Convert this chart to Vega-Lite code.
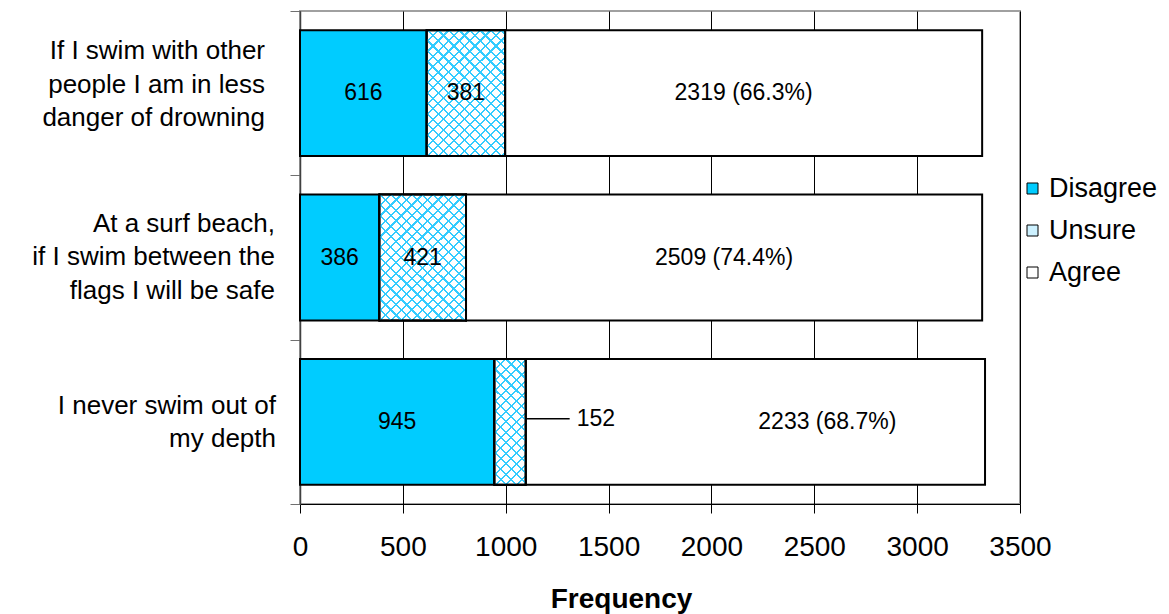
{
  "$schema": "https://vega.github.io/schema/vega-lite/v6.json",
  "width": 720,
  "height": 493,
  "autosize": {"type": "none"},
  "padding": {"left": 300, "top": 11, "right": 149, "bottom": 110},
  "background": "#ffffff",
  "data": {
    "values": [
      {"statement": "If I swim with other|people I am in less|danger of drowning", "response": "Disagree", "count": 616, "label": "616"},
      {"statement": "If I swim with other|people I am in less|danger of drowning", "response": "Unsure", "count": 381, "label": "381"},
      {"statement": "If I swim with other|people I am in less|danger of drowning", "response": "Agree", "count": 2319, "label": "2319 (66.3%)"},
      {"statement": "At a surf beach,|if I swim between the|flags I will be safe", "response": "Disagree", "count": 386, "label": "386"},
      {"statement": "At a surf beach,|if I swim between the|flags I will be safe", "response": "Unsure", "count": 421, "label": "421"},
      {"statement": "At a surf beach,|if I swim between the|flags I will be safe", "response": "Agree", "count": 2509, "label": "2509 (74.4%)"},
      {"statement": "I never swim out of|my depth", "response": "Disagree", "count": 945, "label": "945"},
      {"statement": "I never swim out of|my depth", "response": "Unsure", "count": 152, "label": "152"},
      {"statement": "I never swim out of|my depth", "response": "Agree", "count": 2233, "label": "2233 (68.7%)"}
    ]
  },
  "transform": [
    {"calculate": "indexof(['Disagree','Unsure','Agree'], datum.response)", "as": "order"},
    {"stack": "count", "groupby": ["statement"], "sort": [{"field": "order", "order": "ascending"}], "as": ["x0", "x1"]},
    {"calculate": "(datum.x0 + datum.x1) / 2", "as": "mid"}
  ],
  "encoding": {
    "y": {
      "field": "statement",
      "type": "nominal",
      "sort": null,
      "scale": {"paddingInner": 0, "paddingOuter": 0},
      "axis": {"title": null, "labels": false}
    }
  },
  "layer": [
    {
      "mark": {"type": "bar", "stroke": "#000000", "strokeWidth": 2, "height": {"band": 0.766}},
      "encoding": {
        "x": {
          "field": "x0",
          "type": "quantitative",
          "scale": {"domain": [0, 3500], "nice": false},
          "axis": {"title": "Frequency", "format": "d", "values": [0, 500, 1000, 1500, 2000, 2500, 3000, 3500]}
        },
        "x2": {"field": "x1"},
        "color": {
          "field": "response",
          "type": "nominal",
          "scale": {"domain": ["Disagree", "Unsure", "Agree"], "range": ["#00ccff", "#cdf1ff", "#ffffff"]},
          "legend": {
            "title": null,
            "orient": "none",
            "legendX": 719,
            "legendY": 164,
            "padding": 0,
            "symbolType": "square",
            "symbolSize": 121,
            "symbolStrokeColor": "#000000",
            "symbolStrokeWidth": 1,
            "symbolOpacity": 1,
            "labelFontSize": 27,
            "labelColor": "#000000",
            "labelOffset": 3,
            "rowPadding": 14
          }
        }
      }
    },
    {
      "transform": [{"filter": "datum.response === 'Unsure' && datum.count === 381"}],
      "mark": {"type": "bar", "stroke": "#000000", "strokeWidth": 2, "height": {"band": 0.766}, "fill": {"gradient": "linear", "x1": 0, "y1": 0, "x2": 0.747, "y2": 1.2014, "stops": [
        {"offset": 0, "color": "#3cf"}, {"offset": 0.01, "color": "#3cf"}, {"offset": 0.01, "color": "#fff"}, {"offset": 0.05, "color": "#fff"},
        {"offset": 0.05, "color": "#3cf"}, {"offset": 0.06, "color": "#3cf"}, {"offset": 0.06, "color": "#fff"}, {"offset": 0.1, "color": "#fff"},
        {"offset": 0.1, "color": "#3cf"}, {"offset": 0.11, "color": "#3cf"}, {"offset": 0.11, "color": "#fff"}, {"offset": 0.15, "color": "#fff"},
        {"offset": 0.15, "color": "#3cf"}, {"offset": 0.16, "color": "#3cf"}, {"offset": 0.16, "color": "#fff"}, {"offset": 0.2, "color": "#fff"},
        {"offset": 0.2, "color": "#3cf"}, {"offset": 0.21, "color": "#3cf"}, {"offset": 0.21, "color": "#fff"}, {"offset": 0.25, "color": "#fff"},
        {"offset": 0.25, "color": "#3cf"}, {"offset": 0.26, "color": "#3cf"}, {"offset": 0.26, "color": "#fff"}, {"offset": 0.3, "color": "#fff"},
        {"offset": 0.3, "color": "#3cf"}, {"offset": 0.31, "color": "#3cf"}, {"offset": 0.31, "color": "#fff"}, {"offset": 0.35, "color": "#fff"},
        {"offset": 0.35, "color": "#3cf"}, {"offset": 0.36, "color": "#3cf"}, {"offset": 0.36, "color": "#fff"}, {"offset": 0.4, "color": "#fff"},
        {"offset": 0.4, "color": "#3cf"}, {"offset": 0.41, "color": "#3cf"}, {"offset": 0.41, "color": "#fff"}, {"offset": 0.45, "color": "#fff"},
        {"offset": 0.45, "color": "#3cf"}, {"offset": 0.46, "color": "#3cf"}, {"offset": 0.46, "color": "#fff"}, {"offset": 0.5, "color": "#fff"},
        {"offset": 0.5, "color": "#3cf"}, {"offset": 0.51, "color": "#3cf"}, {"offset": 0.51, "color": "#fff"}, {"offset": 0.55, "color": "#fff"},
        {"offset": 0.55, "color": "#3cf"}, {"offset": 0.56, "color": "#3cf"}, {"offset": 0.56, "color": "#fff"}, {"offset": 0.6, "color": "#fff"},
        {"offset": 0.6, "color": "#3cf"}, {"offset": 0.61, "color": "#3cf"}, {"offset": 0.61, "color": "#fff"}, {"offset": 0.65, "color": "#fff"},
        {"offset": 0.65, "color": "#3cf"}, {"offset": 0.66, "color": "#3cf"}, {"offset": 0.66, "color": "#fff"}, {"offset": 0.7, "color": "#fff"},
        {"offset": 0.7, "color": "#3cf"}, {"offset": 0.71, "color": "#3cf"}, {"offset": 0.71, "color": "#fff"}, {"offset": 0.75, "color": "#fff"},
        {"offset": 0.75, "color": "#3cf"}, {"offset": 0.76, "color": "#3cf"}, {"offset": 0.76, "color": "#fff"}, {"offset": 0.8, "color": "#fff"},
        {"offset": 0.8, "color": "#3cf"}, {"offset": 0.81, "color": "#3cf"}, {"offset": 0.81, "color": "#fff"}, {"offset": 0.85, "color": "#fff"},
        {"offset": 0.85, "color": "#3cf"}, {"offset": 0.86, "color": "#3cf"}, {"offset": 0.86, "color": "#fff"}, {"offset": 0.9, "color": "#fff"},
        {"offset": 0.9, "color": "#3cf"}, {"offset": 0.91, "color": "#3cf"}, {"offset": 0.91, "color": "#fff"}, {"offset": 0.95, "color": "#fff"},
        {"offset": 0.95, "color": "#3cf"}, {"offset": 0.96, "color": "#3cf"}, {"offset": 0.96, "color": "#fff"}, {"offset": 1, "color": "#fff"}
      ]}},
      "encoding": {"x": {"field": "x0", "type": "quantitative"}, "x2": {"field": "x1"}}
    },
    {
      "transform": [{"filter": "datum.response === 'Unsure' && datum.count === 381"}],
      "mark": {"type": "bar", "stroke": "#000000", "strokeWidth": 2, "height": {"band": 0.766}, "fill": {"gradient": "linear", "x1": 0, "y1": 1, "x2": 0.747, "y2": -0.2014, "stops": [
        {"offset": 0, "color": "#3cf"}, {"offset": 0.01, "color": "#3cf"}, {"offset": 0.01, "color": "transparent"}, {"offset": 0.05, "color": "transparent"},
        {"offset": 0.05, "color": "#3cf"}, {"offset": 0.06, "color": "#3cf"}, {"offset": 0.06, "color": "transparent"}, {"offset": 0.1, "color": "transparent"},
        {"offset": 0.1, "color": "#3cf"}, {"offset": 0.11, "color": "#3cf"}, {"offset": 0.11, "color": "transparent"}, {"offset": 0.15, "color": "transparent"},
        {"offset": 0.15, "color": "#3cf"}, {"offset": 0.16, "color": "#3cf"}, {"offset": 0.16, "color": "transparent"}, {"offset": 0.2, "color": "transparent"},
        {"offset": 0.2, "color": "#3cf"}, {"offset": 0.21, "color": "#3cf"}, {"offset": 0.21, "color": "transparent"}, {"offset": 0.25, "color": "transparent"},
        {"offset": 0.25, "color": "#3cf"}, {"offset": 0.26, "color": "#3cf"}, {"offset": 0.26, "color": "transparent"}, {"offset": 0.3, "color": "transparent"},
        {"offset": 0.3, "color": "#3cf"}, {"offset": 0.31, "color": "#3cf"}, {"offset": 0.31, "color": "transparent"}, {"offset": 0.35, "color": "transparent"},
        {"offset": 0.35, "color": "#3cf"}, {"offset": 0.36, "color": "#3cf"}, {"offset": 0.36, "color": "transparent"}, {"offset": 0.4, "color": "transparent"},
        {"offset": 0.4, "color": "#3cf"}, {"offset": 0.41, "color": "#3cf"}, {"offset": 0.41, "color": "transparent"}, {"offset": 0.45, "color": "transparent"},
        {"offset": 0.45, "color": "#3cf"}, {"offset": 0.46, "color": "#3cf"}, {"offset": 0.46, "color": "transparent"}, {"offset": 0.5, "color": "transparent"},
        {"offset": 0.5, "color": "#3cf"}, {"offset": 0.51, "color": "#3cf"}, {"offset": 0.51, "color": "transparent"}, {"offset": 0.55, "color": "transparent"},
        {"offset": 0.55, "color": "#3cf"}, {"offset": 0.56, "color": "#3cf"}, {"offset": 0.56, "color": "transparent"}, {"offset": 0.6, "color": "transparent"},
        {"offset": 0.6, "color": "#3cf"}, {"offset": 0.61, "color": "#3cf"}, {"offset": 0.61, "color": "transparent"}, {"offset": 0.65, "color": "transparent"},
        {"offset": 0.65, "color": "#3cf"}, {"offset": 0.66, "color": "#3cf"}, {"offset": 0.66, "color": "transparent"}, {"offset": 0.7, "color": "transparent"},
        {"offset": 0.7, "color": "#3cf"}, {"offset": 0.71, "color": "#3cf"}, {"offset": 0.71, "color": "transparent"}, {"offset": 0.75, "color": "transparent"},
        {"offset": 0.75, "color": "#3cf"}, {"offset": 0.76, "color": "#3cf"}, {"offset": 0.76, "color": "transparent"}, {"offset": 0.8, "color": "transparent"},
        {"offset": 0.8, "color": "#3cf"}, {"offset": 0.81, "color": "#3cf"}, {"offset": 0.81, "color": "transparent"}, {"offset": 0.85, "color": "transparent"},
        {"offset": 0.85, "color": "#3cf"}, {"offset": 0.86, "color": "#3cf"}, {"offset": 0.86, "color": "transparent"}, {"offset": 0.9, "color": "transparent"},
        {"offset": 0.9, "color": "#3cf"}, {"offset": 0.91, "color": "#3cf"}, {"offset": 0.91, "color": "transparent"}, {"offset": 0.95, "color": "transparent"},
        {"offset": 0.95, "color": "#3cf"}, {"offset": 0.96, "color": "#3cf"}, {"offset": 0.96, "color": "transparent"}, {"offset": 1, "color": "transparent"}
      ]}},
      "encoding": {"x": {"field": "x0", "type": "quantitative"}, "x2": {"field": "x1"}}
    },
    {
      "transform": [{"filter": "datum.response === 'Unsure' && datum.count === 421"}],
      "mark": {"type": "bar", "stroke": "#000000", "strokeWidth": 2, "height": {"band": 0.766}, "fill": {"gradient": "linear", "x1": 0, "y1": 0, "x2": 0.7775, "y2": 1.1317, "stops": [
        {"offset": 0, "color": "#3cf"}, {"offset": 0.01, "color": "#3cf"}, {"offset": 0.01, "color": "#fff"}, {"offset": 0.05, "color": "#fff"},
        {"offset": 0.05, "color": "#3cf"}, {"offset": 0.06, "color": "#3cf"}, {"offset": 0.06, "color": "#fff"}, {"offset": 0.1, "color": "#fff"},
        {"offset": 0.1, "color": "#3cf"}, {"offset": 0.11, "color": "#3cf"}, {"offset": 0.11, "color": "#fff"}, {"offset": 0.15, "color": "#fff"},
        {"offset": 0.15, "color": "#3cf"}, {"offset": 0.16, "color": "#3cf"}, {"offset": 0.16, "color": "#fff"}, {"offset": 0.2, "color": "#fff"},
        {"offset": 0.2, "color": "#3cf"}, {"offset": 0.21, "color": "#3cf"}, {"offset": 0.21, "color": "#fff"}, {"offset": 0.25, "color": "#fff"},
        {"offset": 0.25, "color": "#3cf"}, {"offset": 0.26, "color": "#3cf"}, {"offset": 0.26, "color": "#fff"}, {"offset": 0.3, "color": "#fff"},
        {"offset": 0.3, "color": "#3cf"}, {"offset": 0.31, "color": "#3cf"}, {"offset": 0.31, "color": "#fff"}, {"offset": 0.35, "color": "#fff"},
        {"offset": 0.35, "color": "#3cf"}, {"offset": 0.36, "color": "#3cf"}, {"offset": 0.36, "color": "#fff"}, {"offset": 0.4, "color": "#fff"},
        {"offset": 0.4, "color": "#3cf"}, {"offset": 0.41, "color": "#3cf"}, {"offset": 0.41, "color": "#fff"}, {"offset": 0.45, "color": "#fff"},
        {"offset": 0.45, "color": "#3cf"}, {"offset": 0.46, "color": "#3cf"}, {"offset": 0.46, "color": "#fff"}, {"offset": 0.5, "color": "#fff"},
        {"offset": 0.5, "color": "#3cf"}, {"offset": 0.51, "color": "#3cf"}, {"offset": 0.51, "color": "#fff"}, {"offset": 0.55, "color": "#fff"},
        {"offset": 0.55, "color": "#3cf"}, {"offset": 0.56, "color": "#3cf"}, {"offset": 0.56, "color": "#fff"}, {"offset": 0.6, "color": "#fff"},
        {"offset": 0.6, "color": "#3cf"}, {"offset": 0.61, "color": "#3cf"}, {"offset": 0.61, "color": "#fff"}, {"offset": 0.65, "color": "#fff"},
        {"offset": 0.65, "color": "#3cf"}, {"offset": 0.66, "color": "#3cf"}, {"offset": 0.66, "color": "#fff"}, {"offset": 0.7, "color": "#fff"},
        {"offset": 0.7, "color": "#3cf"}, {"offset": 0.71, "color": "#3cf"}, {"offset": 0.71, "color": "#fff"}, {"offset": 0.75, "color": "#fff"},
        {"offset": 0.75, "color": "#3cf"}, {"offset": 0.76, "color": "#3cf"}, {"offset": 0.76, "color": "#fff"}, {"offset": 0.8, "color": "#fff"},
        {"offset": 0.8, "color": "#3cf"}, {"offset": 0.81, "color": "#3cf"}, {"offset": 0.81, "color": "#fff"}, {"offset": 0.85, "color": "#fff"},
        {"offset": 0.85, "color": "#3cf"}, {"offset": 0.86, "color": "#3cf"}, {"offset": 0.86, "color": "#fff"}, {"offset": 0.9, "color": "#fff"},
        {"offset": 0.9, "color": "#3cf"}, {"offset": 0.91, "color": "#3cf"}, {"offset": 0.91, "color": "#fff"}, {"offset": 0.95, "color": "#fff"},
        {"offset": 0.95, "color": "#3cf"}, {"offset": 0.96, "color": "#3cf"}, {"offset": 0.96, "color": "#fff"}, {"offset": 1, "color": "#fff"}
      ]}},
      "encoding": {"x": {"field": "x0", "type": "quantitative"}, "x2": {"field": "x1"}}
    },
    {
      "transform": [{"filter": "datum.response === 'Unsure' && datum.count === 421"}],
      "mark": {"type": "bar", "stroke": "#000000", "strokeWidth": 2, "height": {"band": 0.766}, "fill": {"gradient": "linear", "x1": 0, "y1": 1, "x2": 0.7775, "y2": -0.1317, "stops": [
        {"offset": 0, "color": "#3cf"}, {"offset": 0.01, "color": "#3cf"}, {"offset": 0.01, "color": "transparent"}, {"offset": 0.05, "color": "transparent"},
        {"offset": 0.05, "color": "#3cf"}, {"offset": 0.06, "color": "#3cf"}, {"offset": 0.06, "color": "transparent"}, {"offset": 0.1, "color": "transparent"},
        {"offset": 0.1, "color": "#3cf"}, {"offset": 0.11, "color": "#3cf"}, {"offset": 0.11, "color": "transparent"}, {"offset": 0.15, "color": "transparent"},
        {"offset": 0.15, "color": "#3cf"}, {"offset": 0.16, "color": "#3cf"}, {"offset": 0.16, "color": "transparent"}, {"offset": 0.2, "color": "transparent"},
        {"offset": 0.2, "color": "#3cf"}, {"offset": 0.21, "color": "#3cf"}, {"offset": 0.21, "color": "transparent"}, {"offset": 0.25, "color": "transparent"},
        {"offset": 0.25, "color": "#3cf"}, {"offset": 0.26, "color": "#3cf"}, {"offset": 0.26, "color": "transparent"}, {"offset": 0.3, "color": "transparent"},
        {"offset": 0.3, "color": "#3cf"}, {"offset": 0.31, "color": "#3cf"}, {"offset": 0.31, "color": "transparent"}, {"offset": 0.35, "color": "transparent"},
        {"offset": 0.35, "color": "#3cf"}, {"offset": 0.36, "color": "#3cf"}, {"offset": 0.36, "color": "transparent"}, {"offset": 0.4, "color": "transparent"},
        {"offset": 0.4, "color": "#3cf"}, {"offset": 0.41, "color": "#3cf"}, {"offset": 0.41, "color": "transparent"}, {"offset": 0.45, "color": "transparent"},
        {"offset": 0.45, "color": "#3cf"}, {"offset": 0.46, "color": "#3cf"}, {"offset": 0.46, "color": "transparent"}, {"offset": 0.5, "color": "transparent"},
        {"offset": 0.5, "color": "#3cf"}, {"offset": 0.51, "color": "#3cf"}, {"offset": 0.51, "color": "transparent"}, {"offset": 0.55, "color": "transparent"},
        {"offset": 0.55, "color": "#3cf"}, {"offset": 0.56, "color": "#3cf"}, {"offset": 0.56, "color": "transparent"}, {"offset": 0.6, "color": "transparent"},
        {"offset": 0.6, "color": "#3cf"}, {"offset": 0.61, "color": "#3cf"}, {"offset": 0.61, "color": "transparent"}, {"offset": 0.65, "color": "transparent"},
        {"offset": 0.65, "color": "#3cf"}, {"offset": 0.66, "color": "#3cf"}, {"offset": 0.66, "color": "transparent"}, {"offset": 0.7, "color": "transparent"},
        {"offset": 0.7, "color": "#3cf"}, {"offset": 0.71, "color": "#3cf"}, {"offset": 0.71, "color": "transparent"}, {"offset": 0.75, "color": "transparent"},
        {"offset": 0.75, "color": "#3cf"}, {"offset": 0.76, "color": "#3cf"}, {"offset": 0.76, "color": "transparent"}, {"offset": 0.8, "color": "transparent"},
        {"offset": 0.8, "color": "#3cf"}, {"offset": 0.81, "color": "#3cf"}, {"offset": 0.81, "color": "transparent"}, {"offset": 0.85, "color": "transparent"},
        {"offset": 0.85, "color": "#3cf"}, {"offset": 0.86, "color": "#3cf"}, {"offset": 0.86, "color": "transparent"}, {"offset": 0.9, "color": "transparent"},
        {"offset": 0.9, "color": "#3cf"}, {"offset": 0.91, "color": "#3cf"}, {"offset": 0.91, "color": "transparent"}, {"offset": 0.95, "color": "transparent"},
        {"offset": 0.95, "color": "#3cf"}, {"offset": 0.96, "color": "#3cf"}, {"offset": 0.96, "color": "transparent"}, {"offset": 1, "color": "transparent"}
      ]}},
      "encoding": {"x": {"field": "x0", "type": "quantitative"}, "x2": {"field": "x1"}}
    },
    {
      "transform": [{"filter": "datum.response === 'Unsure' && datum.count === 152"}],
      "mark": {"type": "bar", "stroke": "#000000", "strokeWidth": 2, "height": {"band": 0.766}, "fill": {"gradient": "linear", "x1": 0, "y1": 0, "x2": 0.3114, "y2": 1.2555, "stops": [
        {"offset": 0, "color": "#3cf"}, {"offset": 0.0125, "color": "#3cf"}, {"offset": 0.0125, "color": "#fff"}, {"offset": 0.0625, "color": "#fff"},
        {"offset": 0.0625, "color": "#3cf"}, {"offset": 0.075, "color": "#3cf"}, {"offset": 0.075, "color": "#fff"}, {"offset": 0.125, "color": "#fff"},
        {"offset": 0.125, "color": "#3cf"}, {"offset": 0.1375, "color": "#3cf"}, {"offset": 0.1375, "color": "#fff"}, {"offset": 0.1875, "color": "#fff"},
        {"offset": 0.1875, "color": "#3cf"}, {"offset": 0.2, "color": "#3cf"}, {"offset": 0.2, "color": "#fff"}, {"offset": 0.25, "color": "#fff"},
        {"offset": 0.25, "color": "#3cf"}, {"offset": 0.2625, "color": "#3cf"}, {"offset": 0.2625, "color": "#fff"}, {"offset": 0.3125, "color": "#fff"},
        {"offset": 0.3125, "color": "#3cf"}, {"offset": 0.325, "color": "#3cf"}, {"offset": 0.325, "color": "#fff"}, {"offset": 0.375, "color": "#fff"},
        {"offset": 0.375, "color": "#3cf"}, {"offset": 0.3875, "color": "#3cf"}, {"offset": 0.3875, "color": "#fff"}, {"offset": 0.4375, "color": "#fff"},
        {"offset": 0.4375, "color": "#3cf"}, {"offset": 0.45, "color": "#3cf"}, {"offset": 0.45, "color": "#fff"}, {"offset": 0.5, "color": "#fff"},
        {"offset": 0.5, "color": "#3cf"}, {"offset": 0.5125, "color": "#3cf"}, {"offset": 0.5125, "color": "#fff"}, {"offset": 0.5625, "color": "#fff"},
        {"offset": 0.5625, "color": "#3cf"}, {"offset": 0.575, "color": "#3cf"}, {"offset": 0.575, "color": "#fff"}, {"offset": 0.625, "color": "#fff"},
        {"offset": 0.625, "color": "#3cf"}, {"offset": 0.6375, "color": "#3cf"}, {"offset": 0.6375, "color": "#fff"}, {"offset": 0.6875, "color": "#fff"},
        {"offset": 0.6875, "color": "#3cf"}, {"offset": 0.7, "color": "#3cf"}, {"offset": 0.7, "color": "#fff"}, {"offset": 0.75, "color": "#fff"},
        {"offset": 0.75, "color": "#3cf"}, {"offset": 0.7625, "color": "#3cf"}, {"offset": 0.7625, "color": "#fff"}, {"offset": 0.8125, "color": "#fff"},
        {"offset": 0.8125, "color": "#3cf"}, {"offset": 0.825, "color": "#3cf"}, {"offset": 0.825, "color": "#fff"}, {"offset": 0.875, "color": "#fff"},
        {"offset": 0.875, "color": "#3cf"}, {"offset": 0.8875, "color": "#3cf"}, {"offset": 0.8875, "color": "#fff"}, {"offset": 0.9375, "color": "#fff"},
        {"offset": 0.9375, "color": "#3cf"}, {"offset": 0.95, "color": "#3cf"}, {"offset": 0.95, "color": "#fff"}, {"offset": 1, "color": "#fff"}
      ]}},
      "encoding": {"x": {"field": "x0", "type": "quantitative"}, "x2": {"field": "x1"}}
    },
    {
      "transform": [{"filter": "datum.response === 'Unsure' && datum.count === 152"}],
      "mark": {"type": "bar", "stroke": "#000000", "strokeWidth": 2, "height": {"band": 0.766}, "fill": {"gradient": "linear", "x1": 0, "y1": 1, "x2": 0.3114, "y2": -0.2555, "stops": [
        {"offset": 0, "color": "#3cf"}, {"offset": 0.0125, "color": "#3cf"}, {"offset": 0.0125, "color": "transparent"}, {"offset": 0.0625, "color": "transparent"},
        {"offset": 0.0625, "color": "#3cf"}, {"offset": 0.075, "color": "#3cf"}, {"offset": 0.075, "color": "transparent"}, {"offset": 0.125, "color": "transparent"},
        {"offset": 0.125, "color": "#3cf"}, {"offset": 0.1375, "color": "#3cf"}, {"offset": 0.1375, "color": "transparent"}, {"offset": 0.1875, "color": "transparent"},
        {"offset": 0.1875, "color": "#3cf"}, {"offset": 0.2, "color": "#3cf"}, {"offset": 0.2, "color": "transparent"}, {"offset": 0.25, "color": "transparent"},
        {"offset": 0.25, "color": "#3cf"}, {"offset": 0.2625, "color": "#3cf"}, {"offset": 0.2625, "color": "transparent"}, {"offset": 0.3125, "color": "transparent"},
        {"offset": 0.3125, "color": "#3cf"}, {"offset": 0.325, "color": "#3cf"}, {"offset": 0.325, "color": "transparent"}, {"offset": 0.375, "color": "transparent"},
        {"offset": 0.375, "color": "#3cf"}, {"offset": 0.3875, "color": "#3cf"}, {"offset": 0.3875, "color": "transparent"}, {"offset": 0.4375, "color": "transparent"},
        {"offset": 0.4375, "color": "#3cf"}, {"offset": 0.45, "color": "#3cf"}, {"offset": 0.45, "color": "transparent"}, {"offset": 0.5, "color": "transparent"},
        {"offset": 0.5, "color": "#3cf"}, {"offset": 0.5125, "color": "#3cf"}, {"offset": 0.5125, "color": "transparent"}, {"offset": 0.5625, "color": "transparent"},
        {"offset": 0.5625, "color": "#3cf"}, {"offset": 0.575, "color": "#3cf"}, {"offset": 0.575, "color": "transparent"}, {"offset": 0.625, "color": "transparent"},
        {"offset": 0.625, "color": "#3cf"}, {"offset": 0.6375, "color": "#3cf"}, {"offset": 0.6375, "color": "transparent"}, {"offset": 0.6875, "color": "transparent"},
        {"offset": 0.6875, "color": "#3cf"}, {"offset": 0.7, "color": "#3cf"}, {"offset": 0.7, "color": "transparent"}, {"offset": 0.75, "color": "transparent"},
        {"offset": 0.75, "color": "#3cf"}, {"offset": 0.7625, "color": "#3cf"}, {"offset": 0.7625, "color": "transparent"}, {"offset": 0.8125, "color": "transparent"},
        {"offset": 0.8125, "color": "#3cf"}, {"offset": 0.825, "color": "#3cf"}, {"offset": 0.825, "color": "transparent"}, {"offset": 0.875, "color": "transparent"},
        {"offset": 0.875, "color": "#3cf"}, {"offset": 0.8875, "color": "#3cf"}, {"offset": 0.8875, "color": "transparent"}, {"offset": 0.9375, "color": "transparent"},
        {"offset": 0.9375, "color": "#3cf"}, {"offset": 0.95, "color": "#3cf"}, {"offset": 0.95, "color": "transparent"}, {"offset": 1, "color": "transparent"}
      ]}},
      "encoding": {"x": {"field": "x0", "type": "quantitative"}, "x2": {"field": "x1"}}
    },
    {
      "transform": [{"filter": "datum.response === 'Unsure' && datum.count === 152"}],
      "mark": {"type": "rule", "color": "#000000", "strokeWidth": 1.5, "x2Offset": 44, "yOffset": -3},
      "encoding": {"x": {"field": "x1", "type": "quantitative"}, "x2": {"field": "x1"}}
    },
    {
      "transform": [{"filter": "!(datum.count === 152 || datum.count === 2233)"}],
      "mark": {"type": "text", "fontSize": 23, "color": "#000000", "align": "center", "baseline": "middle"},
      "encoding": {"x": {"field": "mid", "type": "quantitative"}, "text": {"field": "label"}}
    },
    {
      "transform": [{"filter": "datum.count === 2233"}],
      "mark": {"type": "text", "fontSize": 23, "color": "#000000", "align": "center", "baseline": "middle", "dx": 72},
      "encoding": {"x": {"field": "mid", "type": "quantitative"}, "text": {"field": "label"}}
    },
    {
      "transform": [{"filter": "datum.count === 152"}],
      "mark": {"type": "text", "fontSize": 23, "color": "#000000", "align": "left", "baseline": "middle", "dx": 51, "dy": -3},
      "encoding": {"x": {"field": "x1", "type": "quantitative"}, "text": {"field": "label"}}
    },
    {
      "transform": [{"filter": "datum.response === 'Disagree' && datum.count === 616"}],
      "mark": {"type": "text", "fontSize": 26, "color": "#000000", "align": "right", "baseline": "middle", "lineBreak": "|", "lineHeight": 33.5, "dx": -35, "dy": -42},
      "encoding": {"x": {"datum": 0, "type": "quantitative"}, "text": {"field": "statement"}}
    },
    {
      "transform": [{"filter": "datum.response === 'Disagree' && datum.count === 386"}],
      "mark": {"type": "text", "fontSize": 26, "color": "#000000", "align": "right", "baseline": "middle", "lineBreak": "|", "lineHeight": 33.5, "dx": -25, "dy": -34},
      "encoding": {"x": {"datum": 0, "type": "quantitative"}, "text": {"field": "statement"}}
    },
    {
      "transform": [{"filter": "datum.response === 'Disagree' && datum.count === 945"}],
      "mark": {"type": "text", "fontSize": 26, "color": "#000000", "align": "right", "baseline": "middle", "lineBreak": "|", "lineHeight": 33.5, "dx": -24, "dy": -16},
      "encoding": {"x": {"datum": 0, "type": "quantitative"}, "text": {"field": "statement"}}
    }
  ],
  "config": {
    "font": "Liberation Sans",
    "view": {"stroke": "#a0a0a0", "strokeWidth": 2},
    "axisX": {
      "grid": true,
      "gridColor": "#000000",
      "gridWidth": 1,
      "gridOpacity": 1,
      "domainColor": "#000000",
      "domainWidth": 1,
      "tickColor": "#000000",
      "tickWidth": 1,
      "tickSize": 9,
      "labelFontSize": 28,
      "labelColor": "#000000",
      "labelPadding": 20,
      "labelFlush": false,
      "labelOverlap": false,
      "titleFontSize": 28,
      "titleFontWeight": "bold",
      "titleColor": "#000000",
      "titleX": 321,
      "titleY": 103,
      "titleBaseline": "alphabetic"
    },
    "axisY": {
      "grid": false,
      "domainColor": "#404040",
      "domainWidth": 1.5,
      "tickColor": "#707070",
      "tickWidth": 1,
      "tickSize": 10,
      "tickBand": "extent"
    }
  }
}
